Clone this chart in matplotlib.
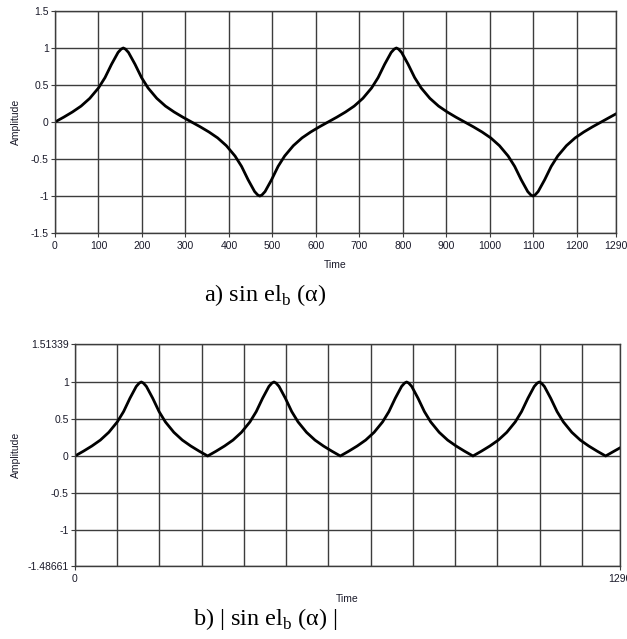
import matplotlib.pyplot as plt
import numpy as np

# sampled signal, one value per time point
time = [0, 20, 40, 60, 80, 100, 115, 130, 145, 152, 157, 162, 169, 184, 199, 214, 234, 254, 274, 294,
        314, 334, 354, 374, 394, 414, 429, 444, 459, 466, 471, 476, 483, 498, 513, 528, 548, 568, 588, 608,
        628, 648, 668, 688, 708, 728, 743, 758, 773, 780, 785, 790, 797, 812, 827, 842, 862, 882, 902, 922,
        942, 962, 982, 1002, 1022, 1042, 1057, 1072, 1087, 1094, 1099, 1104, 1111, 1126, 1141, 1156, 1176,
        1196, 1216, 1236, 1256, 1276, 1290]
amplitude = [0, 0.065, 0.135, 0.215, 0.32, 0.46, 0.6, 0.78, 0.94, 0.985, 1.0, 0.985, 0.94, 0.78, 0.6,
             0.46, 0.32, 0.215, 0.135, 0.065,
             0, -0.065, -0.135, -0.215, -0.32, -0.46, -0.6, -0.78, -0.94, -0.985, -1.0, -0.985, -0.94,
             -0.78, -0.6, -0.46, -0.32, -0.215, -0.135, -0.065,
             0, 0.065, 0.135, 0.215, 0.32, 0.46, 0.6, 0.78, 0.94, 0.985, 1.0, 0.985, 0.94, 0.78, 0.6,
             0.46, 0.32, 0.215, 0.135, 0.065,
             0, -0.065, -0.135, -0.215, -0.32, -0.46, -0.6, -0.78, -0.94, -0.985, -1.0, -0.985, -0.94,
             -0.78, -0.6, -0.46, -0.32, -0.215, -0.135, -0.065,
             0, 0.065, 0.11]

xticks_a = [0, 100, 200, 300, 400, 500, 600, 700, 800, 900, 1000, 1100, 1200, 1290]
yticks_a = [-1.5, -1, -0.5, 0, 0.5, 1, 1.5]
ylabels_a = ['-1.5', '-1', '-0.5', '0', '0.5', '1', '1.5']
xgrid_b = [100, 200, 300, 400, 500, 600, 700, 800, 900, 1000, 1100, 1200]
yticks_b = [-1.48661, -1, -0.5, 0, 0.5, 1, 1.51339]
ylabels_b = ['-1.48661', '-1', '-0.5', '0', '0.5', '1', '1.51339']

t = np.array(time)
amp = np.array(amplitude)

plt.rcParams['font.family'] = 'Liberation Sans'
grid_col = '#3c3c3c'
txt_col = '#1a1a2a'

fig = plt.figure(figsize=(6.27, 6.39), dpi=100)


def style(ax):
    for s in ax.spines.values():
        s.set_color(grid_col)
        s.set_linewidth(1.0)
    ax.tick_params(axis='both', length=3, width=0.8, color=grid_col,
                   labelsize=7.5, labelcolor=txt_col, pad=1.5)
    ax.tick_params(axis='x', pad=3)
    ax.set_ylabel('Amplitude', fontsize=7.5, color=txt_col, labelpad=7)
    ax.set_xlabel('Time', fontsize=7.5, color=txt_col, labelpad=6)


# a) signed signal
ax1 = fig.add_axes([55 / 627, 1 - 233 / 639, 561 / 627, 222 / 639])
ax1.plot(t, amp, color='black', lw=2.0, solid_joinstyle='round')
ax1.set_xlim(0, 1290)
ax1.set_ylim(-1.5, 1.5)
ax1.set_xticks(xticks_a)
ax1.set_yticks(yticks_a)
ax1.set_yticklabels(ylabels_a)
ax1.grid(True, color=grid_col, lw=1.0)
style(ax1)

# b) rectified signal
ax2 = fig.add_axes([75 / 627, 1 - 566 / 639, 545 / 627, 222 / 639])
ax2.plot(t, np.abs(amp), color='black', lw=2.0, solid_joinstyle='round')
ax2.set_xlim(0, 1290)
ax2.set_ylim(-1.48661, 1.51339)
ax2.set_xticks([0, 1290])
ax2.set_xticks(xgrid_b, minor=True)
ax2.tick_params(axis='x', which='minor', length=0)
ax2.set_yticks(yticks_b)
ax2.set_yticklabels(ylabels_b)
ax2.grid(True, which='both', color=grid_col, lw=1.0)
style(ax2)
ax2.yaxis.labelpad = 5
ax2.xaxis.labelpad = 7

fig.text(265 / 627, 1 - 295 / 639, r'a) sin el$_\mathregular{b}$ (α)', ha='center', va='center',
         fontsize=17.5, family='Liberation Serif')
fig.text(265 / 627, 1 - 619 / 639, r'b) | sin el$_\mathregular{b}$ (α) |', ha='center', va='center',
         fontsize=17.5, family='Liberation Serif')

fig.savefig('out.png', dpi=100)
